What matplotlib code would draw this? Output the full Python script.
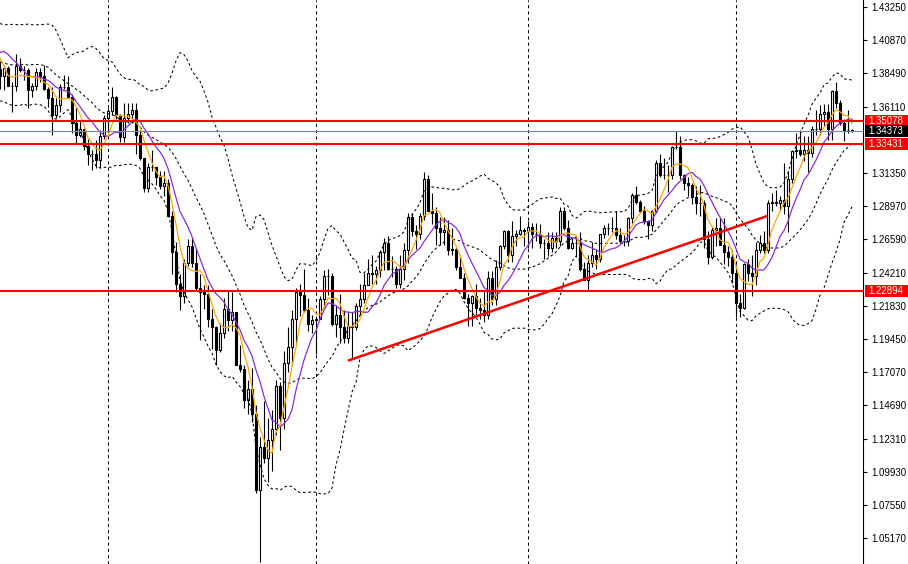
import numpy as np
import pandas as pd
import matplotlib
matplotlib.use("Agg")
import matplotlib.pyplot as plt
import matplotlib.transforms as mtransforms
from matplotlib.patches import Rectangle

# weekly candles, first bar = week of 27 Jun 2021, last = week of 27 Jul 2025
# closes of the 19 weeks before the first bar (only used for the indicators)
warmup_close = [1.4010, 1.3930, 1.3830, 1.3930, 1.3860, 1.3780, 1.3830, 1.3700, 1.3840, 1.3870,
                1.3820, 1.3957, 1.4093, 1.4150, 1.4185, 1.4160, 1.4110, 1.3806, 1.3880]

opens = [1.3880, 1.3830, 1.3890, 1.3760, 1.3760, 1.3900, 1.3870, 1.3870, 1.3730, 1.3760,
         1.3860, 1.3830, 1.3740, 1.3670, 1.3550, 1.3620, 1.3750, 1.3750, 1.3680, 1.3490,
         1.3410, 1.3450, 1.3330, 1.3270, 1.3270, 1.3230, 1.3400,
         1.3530, 1.3580, 1.3680, 1.3550, 1.3390, 1.3530, 1.3560, 1.3590, 1.3410, 1.3240,
         1.3030, 1.3180, 1.3180, 1.3110, 1.3040, 1.3060, 1.2830, 1.2570, 1.2340, 1.2250,
         1.2490, 1.2610, 1.2490, 1.2310, 1.2280, 1.2270, 1.2090, 1.2030, 1.1870, 1.1990,
         1.2160, 1.2080, 1.2140, 1.1760, 1.1730, 1.1510, 1.1590, 1.1410, 1.0860, 1.1170,
         1.1090, 1.1220, 1.1300, 1.1610, 1.1380, 1.1770, 1.1890, 1.2090, 1.2280, 1.2260,
         1.2150, 1.2050,
         1.2080, 1.2090, 1.2230, 1.2400, 1.2400, 1.2050, 1.2120, 1.2030, 1.1950, 1.2040,
         1.2030, 1.2180, 1.2230, 1.2330, 1.2420, 1.2410, 1.2440, 1.2570, 1.2630, 1.2450,
         1.2450, 1.2340, 1.2450, 1.2580, 1.2820, 1.2720, 1.2700, 1.2830, 1.3090, 1.2860,
         1.2850, 1.2740, 1.2710, 1.2730, 1.2580, 1.2590, 1.2460, 1.2380, 1.2240, 1.2200,
         1.2250, 1.2170, 1.2150, 1.2120, 1.2380, 1.2230, 1.2460, 1.2610, 1.2720, 1.2550,
         1.2680, 1.2700, 1.2730,
         1.2720, 1.2750, 1.2700, 1.2700, 1.2630, 1.2630, 1.2600, 1.2670, 1.2650, 1.2860,
         1.2740, 1.2600, 1.2630, 1.2630, 1.2450, 1.2370, 1.2490, 1.2550, 1.2520, 1.2700,
         1.2740, 1.2740, 1.2740, 1.2690, 1.2650, 1.2650, 1.2810, 1.2980, 1.2930, 1.2860,
         1.2790, 1.2760, 1.2860, 1.3210, 1.3120, 1.3120, 1.3120, 1.3320, 1.3320, 1.3120,
         1.3060, 1.3050, 1.2960, 1.2920, 1.2920, 1.2660, 1.2530, 1.2730, 1.2740, 1.2620,
         1.2570, 1.2530,
         1.2420, 1.2200, 1.2170, 1.2480, 1.2420, 1.2400, 1.2580, 1.2630, 1.2580, 1.2920,
         1.2930, 1.2920, 1.2940, 1.2900, 1.3090, 1.3290, 1.3300, 1.3270, 1.3300, 1.3280,
         1.3450, 1.3450, 1.3560, 1.3570, 1.3450, 1.3720, 1.3640, 1.3490, 1.3440, 1.3440]

highs = [1.3935, 1.3910, 1.3905, 1.3790, 1.3985, 1.3960, 1.3900, 1.3890, 1.3780, 1.3890,
         1.3890, 1.3910, 1.3750, 1.3750, 1.3670, 1.3770, 1.3835, 1.3830, 1.3700, 1.3610,
         1.3515, 1.3460, 1.3380, 1.3300, 1.3370, 1.3440, 1.3550,
         1.3600, 1.3750, 1.3690, 1.3560, 1.3640, 1.3640, 1.3640, 1.3640, 1.3440, 1.3240,
         1.3210, 1.3300, 1.3180, 1.3150, 1.3150, 1.3090, 1.2860, 1.2640, 1.2410, 1.2520,
         1.2660, 1.2670, 1.2600, 1.2410, 1.2330, 1.2330, 1.2160, 1.2040, 1.2060, 1.2240,
         1.2290, 1.2280, 1.2140, 1.1900, 1.1760, 1.1650, 1.1740, 1.1470, 1.1240, 1.1500,
         1.1380, 1.1440, 1.1650, 1.1640, 1.1860, 1.2030, 1.2150, 1.2310, 1.2340, 1.2450,
         1.2240, 1.2120,
         1.2110, 1.2250, 1.2440, 1.2450, 1.2420, 1.2190, 1.2270, 1.2150, 1.2140, 1.2140,
         1.2200, 1.2340, 1.2420, 1.2520, 1.2550, 1.2470, 1.2580, 1.2670, 1.2680, 1.2540,
         1.2470, 1.2550, 1.2630, 1.2850, 1.2850, 1.2760, 1.2850, 1.3145, 1.3120, 1.2990,
         1.2890, 1.2820, 1.2820, 1.2800, 1.2740, 1.2600, 1.2550, 1.2420, 1.2270, 1.2260,
         1.2340, 1.2240, 1.2290, 1.2430, 1.2430, 1.2510, 1.2620, 1.2730, 1.2730, 1.2790,
         1.2730, 1.2830, 1.2740,
         1.2790, 1.2780, 1.2780, 1.2770, 1.2660, 1.2710, 1.2710, 1.2710, 1.2890, 1.2890,
         1.2800, 1.2670, 1.2680, 1.2710, 1.2500, 1.2550, 1.2640, 1.2590, 1.2700, 1.2760,
         1.2780, 1.2820, 1.2860, 1.2740, 1.2690, 1.2820, 1.2990, 1.3045, 1.2940, 1.2900,
         1.2800, 1.2870, 1.3230, 1.3270, 1.3240, 1.3190, 1.3330, 1.3435, 1.3400, 1.3130,
         1.3110, 1.3060, 1.3040, 1.3050, 1.2940, 1.2720, 1.2750, 1.2810, 1.2810, 1.2810,
         1.2610, 1.2580,
         1.2480, 1.2270, 1.2490, 1.2520, 1.2550, 1.2640, 1.2690, 1.2720, 1.2940, 1.2990,
         1.3010, 1.2970, 1.3210, 1.3150, 1.3300, 1.3420, 1.3440, 1.3400, 1.3400, 1.3470,
         1.3590, 1.3620, 1.3630, 1.3630, 1.3730, 1.3790, 1.3660, 1.3520, 1.3590, 1.3450]

lows = [1.3735, 1.3730, 1.3760, 1.3570, 1.3720, 1.3860, 1.3800, 1.3600, 1.3680, 1.3730,
        1.3790, 1.3730, 1.3610, 1.3410, 1.3530, 1.3570, 1.3740, 1.3670, 1.3420, 1.3350,
        1.3390, 1.3300, 1.3190, 1.3160, 1.3170, 1.3170, 1.3380,
        1.3430, 1.3550, 1.3520, 1.3360, 1.3360, 1.3490, 1.3490, 1.3270, 1.3230, 1.3000,
        1.3000, 1.3150, 1.3050, 1.3020, 1.2970, 1.2830, 1.2410, 1.2280, 1.2155, 1.2200,
        1.2470, 1.2460, 1.2300, 1.1935, 1.2160, 1.2030, 1.1875, 1.1760, 1.1850, 1.1950,
        1.2000, 1.2000, 1.1760, 1.1710, 1.1450, 1.1410, 1.1350, 1.0840, 1.0350, 1.1060,
        1.0920, 1.1000, 1.1260, 1.1150, 1.1300, 1.1710, 1.1760, 1.1900, 1.2110, 1.2140,
        1.2000, 1.1990,
        1.1840, 1.2090, 1.2170, 1.2260, 1.2040, 1.1960, 1.1920, 1.1920, 1.1920, 1.1800,
        1.2010, 1.2120, 1.2200, 1.2330, 1.2340, 1.2340, 1.2390, 1.2440, 1.2440, 1.2390,
        1.2310, 1.2310, 1.2370, 1.2490, 1.2680, 1.2590, 1.2660, 1.2800, 1.2860, 1.2770,
        1.2620, 1.2620, 1.2620, 1.2550, 1.2550, 1.2440, 1.2380, 1.2230, 1.2040, 1.2040,
        1.2120, 1.2090, 1.2070, 1.2090, 1.2190, 1.2190, 1.2440, 1.2590, 1.2500, 1.2500,
        1.2610, 1.2690, 1.2610,
        1.2600, 1.2600, 1.2650, 1.2600, 1.2520, 1.2540, 1.2570, 1.2600, 1.2610, 1.2730,
        1.2590, 1.2590, 1.2540, 1.2430, 1.2370, 1.2300, 1.2460, 1.2450, 1.2500, 1.2670,
        1.2690, 1.2710, 1.2660, 1.2630, 1.2610, 1.2610, 1.2780, 1.2910, 1.2850, 1.2770,
        1.2660, 1.2720, 1.2850, 1.3110, 1.3090, 1.3000, 1.3090, 1.3310, 1.3090, 1.3010,
        1.2970, 1.2910, 1.2840, 1.2830, 1.2600, 1.2480, 1.2520, 1.2610, 1.2620, 1.2480,
        1.2470, 1.2350,
        1.2100, 1.2100, 1.2160, 1.2360, 1.2250, 1.2330, 1.2560, 1.2560, 1.2560, 1.2860,
        1.2900, 1.2860, 1.2840, 1.2710, 1.3060, 1.3240, 1.3260, 1.3220, 1.3140, 1.3250,
        1.3410, 1.3410, 1.3470, 1.3370, 1.3370, 1.3600, 1.3480, 1.3365, 1.3420, 1.3430]

closes = [1.3830, 1.3890, 1.3760, 1.3760, 1.3900, 1.3870, 1.3870, 1.3730, 1.3760, 1.3860,
          1.3830, 1.3740, 1.3670, 1.3550, 1.3620, 1.3750, 1.3750, 1.3680, 1.3490, 1.3410,
          1.3450, 1.3330, 1.3270, 1.3270, 1.3230, 1.3400, 1.3530,
          1.3580, 1.3680, 1.3550, 1.3390, 1.3530, 1.3560, 1.3590, 1.3410, 1.3240, 1.3030,
          1.3180, 1.3180, 1.3110, 1.3040, 1.3060, 1.2830, 1.2570, 1.2340, 1.2250, 1.2490,
          1.2610, 1.2490, 1.2310, 1.2280, 1.2270, 1.2090, 1.2030, 1.1870, 1.1990, 1.2160,
          1.2080, 1.2140, 1.1760, 1.1730, 1.1510, 1.1590, 1.1410, 1.0860, 1.1170, 1.1090,
          1.1220, 1.1300, 1.1610, 1.1380, 1.1770, 1.1890, 1.2090, 1.2280, 1.2260, 1.2150,
          1.2050, 1.2080,
          1.2090, 1.2230, 1.2400, 1.2400, 1.2050, 1.2120, 1.2030, 1.1950, 1.2040, 1.2030,
          1.2180, 1.2230, 1.2330, 1.2420, 1.2410, 1.2440, 1.2570, 1.2630, 1.2450, 1.2450,
          1.2340, 1.2450, 1.2580, 1.2820, 1.2720, 1.2700, 1.2830, 1.3090, 1.2860, 1.2850,
          1.2740, 1.2710, 1.2730, 1.2580, 1.2590, 1.2460, 1.2380, 1.2240, 1.2200, 1.2250,
          1.2170, 1.2150, 1.2120, 1.2380, 1.2230, 1.2460, 1.2610, 1.2720, 1.2550, 1.2680,
          1.2700, 1.2730, 1.2720,
          1.2750, 1.2700, 1.2700, 1.2630, 1.2630, 1.2600, 1.2670, 1.2650, 1.2860, 1.2740,
          1.2600, 1.2630, 1.2630, 1.2450, 1.2370, 1.2490, 1.2550, 1.2520, 1.2700, 1.2740,
          1.2740, 1.2740, 1.2690, 1.2650, 1.2650, 1.2810, 1.2980, 1.2930, 1.2860, 1.2790,
          1.2760, 1.2860, 1.3210, 1.3120, 1.3120, 1.3120, 1.3320, 1.3320, 1.3120, 1.3060,
          1.3050, 1.2960, 1.2920, 1.2920, 1.2660, 1.2530, 1.2730, 1.2740, 1.2620, 1.2570,
          1.2530, 1.2420,
          1.2200, 1.2170, 1.2480, 1.2420, 1.2400, 1.2580, 1.2630, 1.2580, 1.2920, 1.2930,
          1.2920, 1.2940, 1.2900, 1.3090, 1.3290, 1.3300, 1.3270, 1.3300, 1.3280, 1.3450,
          1.3450, 1.3560, 1.3570, 1.3450, 1.3720, 1.3640, 1.3490, 1.3440, 1.3440, 1.34373]

# first bar of each new year (2022, 2023, 2024, 2025)
year_start_bars = [27, 79, 132, 184]

# horizontal levels
red_levels = [1.35078, 1.33431, 1.22894]
last_price = 1.34373

# trend line (bar index, price)
trend_bars = [87.0, 191.8]
trend_prices = [1.1790, 1.2827]

# 1.33730 sits under the price tags, so it is left out
tick_levels = [1.43250, 1.40870, 1.38490, 1.36110, 1.31350, 1.28970, 1.26590,
               1.24210, 1.21830, 1.19450, 1.17070, 1.14690, 1.12310, 1.09930, 1.07550, 1.05170]

plt.rcParams["font.family"] = ["Liberation Sans", "DejaVu Sans"]

W, H = 908, 564
PLOT_W = 863
fig = plt.figure(figsize=(W / 100, H / 100), dpi=100, facecolor="white")
ax = fig.add_axes([0, 0, PLOT_W / W, 1])
ax.set_facecolor("white")

o = np.array(opens)
h = np.array(highs)
l = np.array(lows)
c = np.array(closes)
x = np.arange(len(c))
up = c >= o

# candles
ax.vlines(x, l, h, color="black", lw=0.8, zorder=2)
bottom = np.minimum(o, c)
height = np.abs(c - o)
ax.bar(x[up], height[up], bottom=bottom[up], width=0.55, facecolor="white",
       edgecolor="black", lw=0.8, zorder=3)
ax.bar(x[~up], height[~up], bottom=bottom[~up], width=0.55, facecolor="black",
       edgecolor="black", lw=0.8, zorder=3)

# indicators: SMA5, SMA10, Bollinger(20, 2)
n_warm = len(warmup_close)
serie = pd.Series(warmup_close + closes)
sma5 = serie.rolling(5).mean().iloc[n_warm:].values
sma10 = serie.rolling(10).mean().iloc[n_warm:].values
mid = serie.rolling(20).mean().iloc[n_warm:].values
sd = serie.rolling(20).std(ddof=0).iloc[n_warm:].values

dash = (0, (2.5, 2.5))
for banda in [mid + 2 * sd, mid, mid - 2 * sd]:
    ax.plot(x, banda, color="black", lw=0.75, ls=dash, zorder=4)
ax.plot(x, sma10, color="#8A2BE2", lw=0.9, zorder=5)
ax.plot(x, sma5, color="#FFA500", lw=0.9, zorder=5)

# year separators
for b in year_start_bars:
    ax.axvline(b, color="black", lw=0.75, ls=(0, (3, 3)), zorder=1)

# levels and trend line
ax.axhline(last_price, color="#778899", lw=0.8, zorder=6)
for lvl in red_levels:
    ax.axhline(lvl, color="red", lw=1.5, zorder=7)
ax.plot(trend_bars, trend_prices, color="red", lw=1.8, zorder=7, solid_capstyle="butt")

ymin, ymax = 1.03328, 1.4375
ax.set_xlim(0, PLOT_W / 4)
ax.set_ylim(ymin, ymax)

# right price axis
for lado in ["left", "top", "bottom"]:
    ax.spines[lado].set_visible(False)
ax.spines["right"].set_color("black")
ax.spines["right"].set_linewidth(0.8)
ax.set_xticks([])
ax.yaxis.tick_right()
ax.set_yticks(tick_levels)
ax.set_yticklabels([f"{v:.5f}" for v in tick_levels])
ax.tick_params(axis="y", direction="out", length=3, width=0.8, pad=3, labelsize=7,
               colors="black")

# price tags on the axis
trans = mtransforms.blended_transform_factory(fig.transFigure, ax.transData)
box_h = 11.5 * (ymax - ymin) / H
tags = [(lvl, "red") for lvl in red_levels] + [(last_price, "black")]
for lvl, col in tags:
    ax.add_patch(Rectangle((865 / W, lvl - box_h / 2), 43 / W, box_h, transform=trans,
                           facecolor=col, edgecolor="none", clip_on=False, zorder=10))
    ax.text(886 / W, lvl, f"{lvl:.5f}", transform=trans, ha="center", va="center",
            color="white", fontsize=7, zorder=11, clip_on=False)

fig.savefig("out.png", dpi=100, facecolor="white")
